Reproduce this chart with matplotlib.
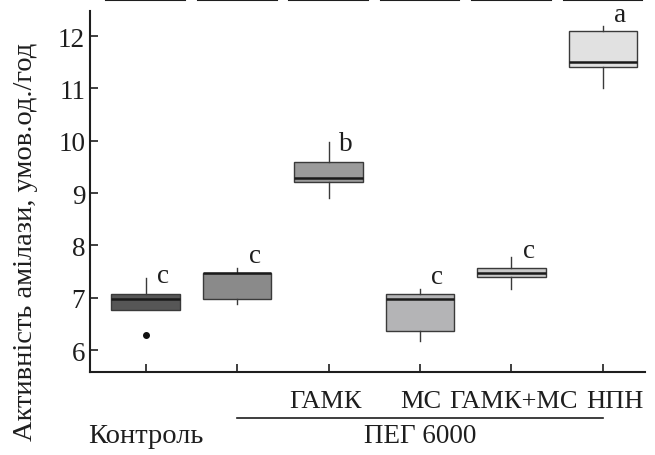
import numpy as np
import matplotlib

matplotlib.use('Agg')
import matplotlib.pyplot as plt
from matplotlib.lines import Line2D
from matplotlib.transforms import blended_transform_factory, ScaledTranslation

plt.rcParams['font.family'] = ['Liberation Serif', 'DejaVu Serif']

# box statistics
groups = ['Контроль', 'ПЕГ', 'ГАМК', 'МС', 'ГАМК+МС', 'НПН']
tick_labels = ['', '', 'ГАМК', 'МС', 'ГАМК+МС', 'НПН']
whisk_lo = [6.77, 6.88, 8.90, 6.18, 7.17, 11.00]
q1 = [6.77, 6.98, 9.21, 6.37, 7.39, 11.40]
med = [6.98, 7.48, 9.29, 6.98, 7.48, 11.50]
q3 = [7.08, 7.48, 9.59, 7.08, 7.57, 12.10]
whisk_hi = [7.37, 7.57, 9.97, 7.17, 7.77, 12.19]
outliers = [[6.29], [], [], [], [], []]
letters = ['c', 'c', 'b', 'c', 'c', 'a']
letter_y = [7.43, 7.80, 9.95, 7.40, 7.90, 12.42]

colors = ['#565656', '#8a8a8a', '#9b9b9b', '#b4b4b6', '#c9c9c9', '#e1e1e1']
ink = '#1e1e1e'
fs = 19.5

fig = plt.figure(figsize=(6.55, 4.56), dpi=100)
ax = fig.add_axes([0.1374, 0.182, 0.8473, 0.7917])

pos = np.arange(1, len(groups) + 1)
stats = []
for i in range(len(groups)):
    stats.append({'whislo': whisk_lo[i], 'q1': q1[i], 'med': med[i],
                  'q3': q3[i], 'whishi': whisk_hi[i], 'fliers': outliers[i]})

bp = ax.bxp(stats, positions=pos, widths=0.75, patch_artist=True,
            showcaps=False,
            boxprops=dict(edgecolor='#3a3a3a', linewidth=1.0),
            medianprops=dict(color='#1a1a1a', linewidth=1.8),
            whiskerprops=dict(color='#3a3a3a', linewidth=1.0),
            flierprops=dict(marker='o', markerfacecolor='#111111',
                            markeredgecolor='#111111', markersize=4))
for patch, c in zip(bp['boxes'], colors):
    patch.set_facecolor(c)

for p, l, y in zip(pos, letters, letter_y):
    ax.text(p + 0.19, y, l, ha='center', va='center', fontsize=fs, color=ink)

ax.set_xlim(0.39, 6.46)
ax.set_ylim(5.58, 12.48)
ax.set_yticks([6, 7, 8, 9, 10, 11, 12])
ax.set_xticks(pos)
ax.set_xticklabels(tick_labels)
ax.tick_params(axis='both', direction='in', length=6, width=1.2,
               labelsize=fs, colors=ink)
ax.tick_params(axis='x', pad=13, labelsize=19)

# the labels in the original sit a little off their ticks
shift_px = [0, 0, -3, 1, 2, 12]
for lab, dx in zip(ax.get_xticklabels(), shift_px):
    lab.set_transform(lab.get_transform() +
                      ScaledTranslation(dx / 100, 0, fig.dpi_scale_trans))

ax.spines['top'].set_visible(False)
ax.spines['right'].set_visible(False)
for s in ['left', 'bottom']:
    ax.spines[s].set_linewidth(1.5)
    ax.spines[s].set_color(ink)

ax.set_ylabel('Активність амілази, умов.од./год', fontsize=20.5,
              color=ink)
ax.yaxis.set_label_coords(-0.093, 0.363)

# group labels under the axis
tr = blended_transform_factory(ax.transData, fig.transFigure)
fig.add_artist(Line2D([2, 6], [0.081, 0.081], transform=tr,
                      color=ink, linewidth=1.2))
ax.text(1, 0.029, 'Контроль', transform=tr, fontsize=20.5, color=ink,
        ha='center', va='baseline', clip_on=False)
ax.text(4, 0.029, 'ПЕГ 6000', transform=tr, fontsize=fs, color=ink,
        ha='center', va='baseline', clip_on=False)

# short rules along the top edge
for p in pos:
    fig.add_artist(Line2D([p - 0.43, p + 0.43], [0.997, 0.997], transform=tr,
                          color=ink, linewidth=1.5))

fig.savefig('out.png', dpi=100)
